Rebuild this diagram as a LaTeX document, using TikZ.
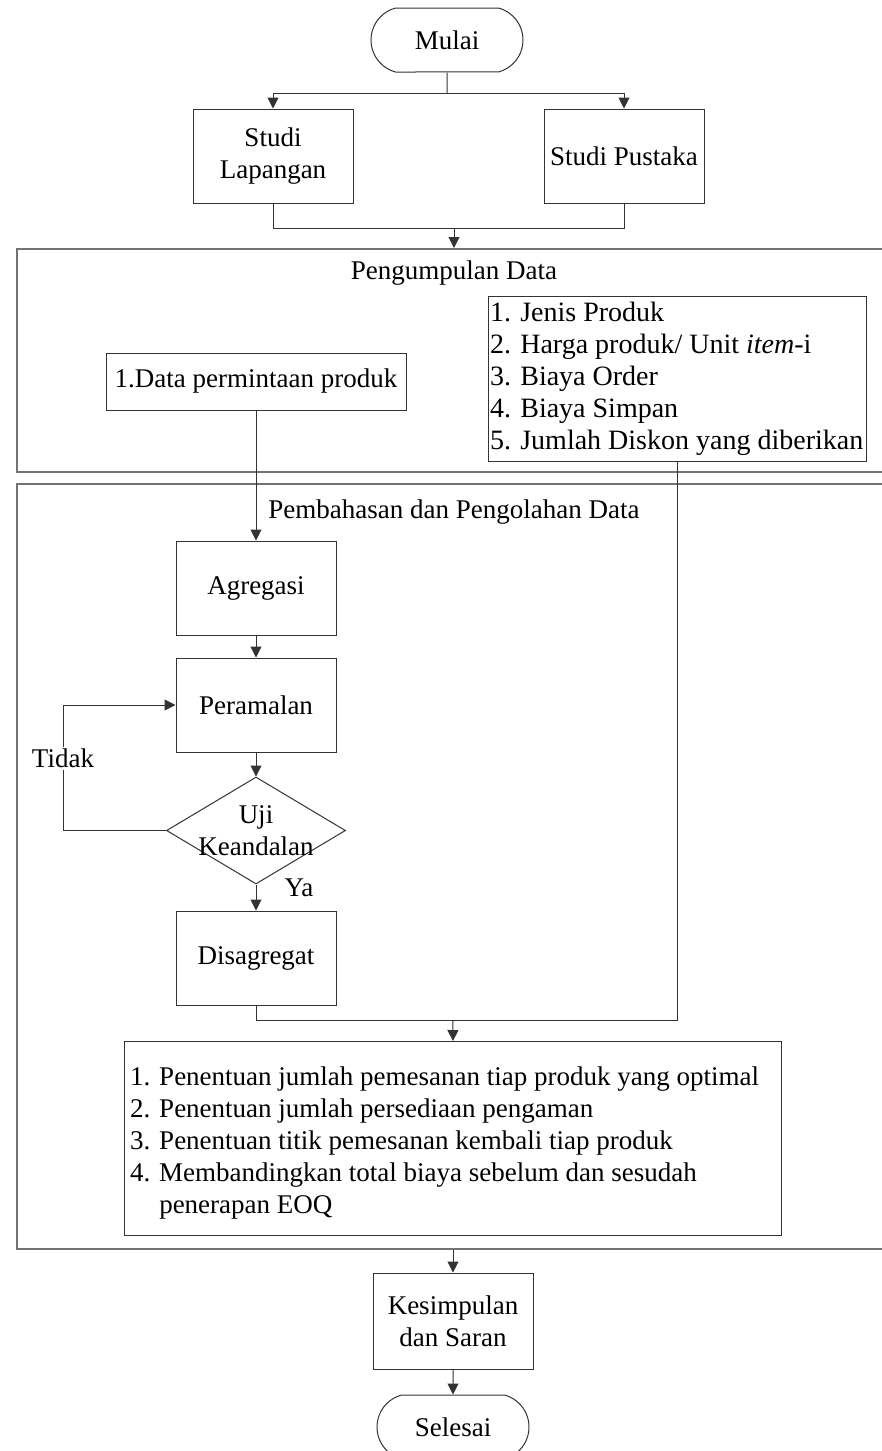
\documentclass[tikz,border=0pt]{standalone}
\usepackage{fontspec}
\setmainfont{Liberation Serif}
\usepackage{tikz}
\usetikzlibrary{positioning,shapes.geometric,shapes.misc,arrows.meta}

\tikzset{
    every node/.style={font=\fontsize{13.5}{16}\selectfont, inner sep=2pt},
    garis/.style={draw=black!80, line width=0.5pt},
    panah/.style={garis, -{Triangle[length=5.5pt,width=5.5pt]}},
    terminal/.style={garis, rounded rectangle, rounded rectangle arc length=150,
        minimum width=80pt, minimum height=32pt},
    proses/.style={garis, rectangle, align=center, minimum width=80pt, minimum height=47pt},
    daftar/.style={garis, rectangle, inner ysep=1pt},
    bingkai/.style={draw=black!55, line width=1pt, rectangle, anchor=north west,
        minimum width=450pt},
    keputusan/.style={garis, diamond, inner sep=0pt, minimum width=89.5pt, minimum height=53.5pt},
    ket/.style={fill=white, inner sep=1pt}
}

\begin{document}
\begin{tikzpicture}[x=0.5pt, y=-0.5pt]
    \useasboundingbox (0,0) rectangle (882,1451);

    % frames
    \node[bingkai, minimum height=111.5pt] (kumpul) at (16,248) {};
    \node[bingkai, minimum height=382.5pt] (olah) at (16,483) {};
    \node (judulA) at (454,273) {Pengumpulan Data};
    \node (judulB) at (454,512) {Pembahasan dan Pengolahan Data};

    % start
    \node[terminal] (mulai) at (447,40) {Mulai};
    \node[proses] (lapangan) at (273,156) {Studi\\Lapangan};
    \node[proses, right=95pt of lapangan] (pustaka) {Studi Pustaka};
    \coordinate (pisah) at (447,93);
    \coordinate (gabung) at (454,228);

    % data
    \node[proses, minimum width=150pt, minimum height=28.5pt] (permintaan) at (256,381.5) {1.Data permintaan produk};
    \node[daftar, font=\fontsize{14}{16.1}\selectfont, inner xsep=1pt, minimum height=81pt]
        (komponen) at (677,379) {\makebox[187pt][l]{\begin{tabular}{@{}l@{}}
        1. Jenis Produk\\
        2. Harga produk/ Unit \textit{item}-i\\
        3. Biaya Order\\
        4. Biaya Simpan\\
        5. Jumlah Diskon yang diberikan
        \end{tabular}}};

    % processing
    \node[proses, below=65pt of permintaan] (agregasi) {Agregasi};
    \node[proses, below=11pt of agregasi] (peramalan) {Peramalan};
    \node[keputusan, below=12pt of peramalan] (uji) {};
    \node[align=center] (ujiteks) at (uji) {Uji\\Keandalan};
    \node[proses, below=13pt of uji] (disagregat) {Disagregat};
    \node[ket] (tidak) at (63,758) {Tidak};
    \coordinate (temu) at (453,1020);
    \node[daftar, inner xsep=3pt, minimum height=97pt] (hasil) at (452.5,1138.5) {%
        \raisebox{-2.5pt}[\height][\depth]{\makebox[322.5pt][l]{\begin{tabular}{@{}l@{ }l@{}}
        1. & Penentuan jumlah pemesanan tiap produk yang optimal\\
        2. & Penentuan jumlah persediaan pengaman\\
        3. & Penentuan titik pemesanan kembali tiap produk\\
        4. & Membandingkan total biaya sebelum dan sesudah\\
           & penerapan EOQ
        \end{tabular}}}};

    % end
    \node[proses, minimum height=48pt] (kesimpulan) at (453,1321) {Kesimpulan\\dan Saran};
    \node[terminal, below=12.5pt of kesimpulan] (selesai) {Selesai};

    % connectors
    \draw[garis] (mulai) -- (pisah);
    \draw[panah] (pisah) -| (lapangan);
    \draw[panah] (pisah) -| (pustaka);
    \draw[garis] (lapangan) |- (gabung);
    \draw[garis] (pustaka) |- (gabung);
    \draw[panah] (gabung) -- (gabung |- kumpul.north);
    \draw[panah] (permintaan) -- (agregasi);
    \draw[panah] (agregasi) -- (peramalan);
    \draw[panah] (peramalan) -- (uji);
    \draw[panah] (uji) -- node[right=12pt, pos=0.12] (ya) {Ya} (disagregat);
    \draw[panah] (uji.west) -- (uji.west -| tidak) |- (peramalan.west);
    \node[ket] at (tidak) {Tidak};
    \draw[garis] (disagregat) |- (temu);
    \draw[garis] (komponen) |- (temu);
    \draw[panah] (temu) -- (hasil);
    \draw[panah] (kesimpulan |- olah.south) -- (kesimpulan);
    \draw[panah] (kesimpulan) -- (selesai);
\end{tikzpicture}
\end{document}
